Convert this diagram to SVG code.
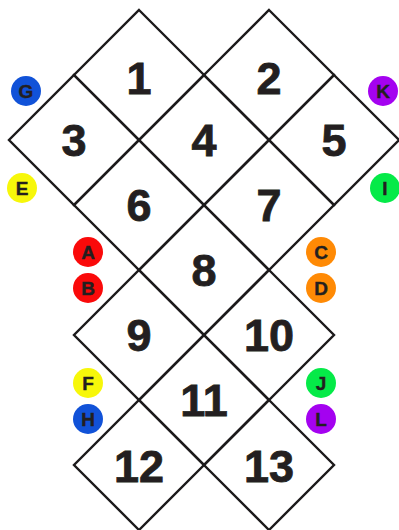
<svg xmlns="http://www.w3.org/2000/svg" width="399" height="530" viewBox="0 0 399 530">
<defs>
<style>
.d{fill:none;stroke:#1c1a1b;stroke-width:2.4;stroke-linejoin:miter}
.n{font-family:"Liberation Sans",Arial,sans-serif;font-weight:bold;font-size:45px;fill:#231f20;stroke:#231f20;stroke-width:0.8;text-anchor:middle}
.l{font-family:"Liberation Sans",Arial,sans-serif;font-weight:bold;font-size:19px;fill:#231f20;stroke:#231f20;stroke-width:0.4;text-anchor:middle}
.red{fill:#fa0a0a}.org{fill:#ff8a05}.yel{fill:#f7f70a}.grn{fill:#05ea48}.blu{fill:#1152d8}.pur{fill:#a402f0}
</style>
<path id="dm" d="M0,-65 L65,0 L0,65 L-65,0 Z"/>
</defs>
<rect width="399" height="530" fill="#fff"/>
<g id="cells">
<g id="n1"><use href="#dm" class="d" x="139" y="75"/><text class="n" x="139" y="94">1</text></g>
<g id="n2"><use href="#dm" class="d" x="269" y="75"/><text class="n" x="269" y="94">2</text></g>
<g id="n3"><use href="#dm" class="d" x="74" y="140"/><text class="n" x="74" y="156">3</text></g>
<g id="n4"><use href="#dm" class="d" x="204" y="140"/><text class="n" x="204" y="156">4</text></g>
<g id="n5"><use href="#dm" class="d" x="334" y="140"/><text class="n" x="334" y="156">5</text></g>
<g id="n6"><use href="#dm" class="d" x="139" y="205"/><text class="n" x="139" y="221">6</text></g>
<g id="n7"><use href="#dm" class="d" x="269" y="205"/><text class="n" x="269" y="221">7</text></g>
<g id="n8"><use href="#dm" class="d" x="204" y="270"/><text class="n" x="204" y="286">8</text></g>
<g id="n9"><use href="#dm" class="d" x="139" y="335"/><text class="n" x="139" y="351">9</text></g>
<g id="n10"><use href="#dm" class="d" x="269" y="335"/><text class="n" x="269" y="351">10</text></g>
<g id="n11"><use href="#dm" class="d" x="204" y="400"/><text class="n" x="204" y="416">11</text></g>
<g id="n12"><use href="#dm" class="d" x="139" y="465"/><text class="n" x="139" y="482">12</text></g>
<g id="n13"><use href="#dm" class="d" x="269" y="465"/><text class="n" x="269" y="482">13</text></g>
</g>
<g id="badges">
<g id="bG"><circle class="blu" cx="26" cy="91" r="15"/><text class="l" x="26" y="98">G</text></g>
<g id="bK"><circle class="pur" cx="383" cy="91" r="15"/><text class="l" x="383" y="98">K</text></g>
<g id="bE"><circle class="yel" cx="22" cy="188" r="15"/><text class="l" x="22" y="195">E</text></g>
<g id="bI"><circle class="grn" cx="385" cy="188" r="15"/><text class="l" x="385" y="195">I</text></g>
<g id="bA"><circle class="red" cx="88" cy="252" r="15"/><text class="l" x="88" y="259">A</text></g>
<g id="bB"><circle class="red" cx="88" cy="288" r="15"/><text class="l" x="88" y="295">B</text></g>
<g id="bC"><circle class="org" cx="321" cy="252" r="15"/><text class="l" x="321" y="259">C</text></g>
<g id="bD"><circle class="org" cx="321" cy="288" r="15"/><text class="l" x="321" y="295">D</text></g>
<g id="bF"><circle class="yel" cx="88" cy="383" r="15"/><text class="l" x="88" y="390">F</text></g>
<g id="bH"><circle class="blu" cx="88" cy="419" r="15"/><text class="l" x="88" y="426">H</text></g>
<g id="bJ"><circle class="grn" cx="321" cy="383" r="15"/><text class="l" x="321" y="390">J</text></g>
<g id="bL"><circle class="pur" cx="321" cy="419" r="15"/><text class="l" x="321" y="426">L</text></g>
</g>
</svg>
